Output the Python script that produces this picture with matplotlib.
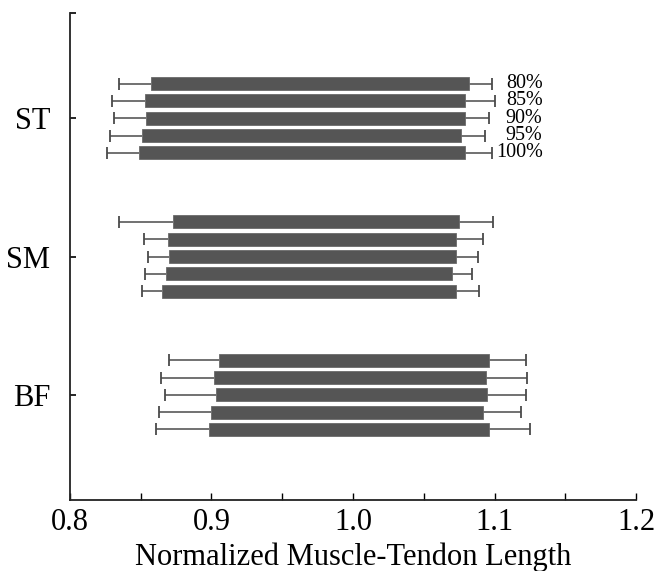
import numpy as np
import matplotlib
matplotlib.use("Agg")
import matplotlib.pyplot as plt
from matplotlib.ticker import MultipleLocator, FormatStrFormatter

plt.rcParams['font.family'] = ['Liberation Serif', 'DejaVu Serif']

muscles = ["ST", "SM", "BF"]
levels = ["80%", "85%", "90%", "95%", "100%"]

# bar start / end and whisker ends, per muscle, ordered 80% .. 100%
st_bar_lo = [0.857, 0.853, 0.854, 0.851, 0.849]
st_bar_hi = [1.082, 1.079, 1.079, 1.076, 1.079]
st_min = [0.835, 0.830, 0.831, 0.828, 0.826]
st_max = [1.098, 1.100, 1.096, 1.093, 1.098]

sm_bar_lo = [0.873, 0.869, 0.870, 0.868, 0.865]
sm_bar_hi = [1.075, 1.073, 1.073, 1.070, 1.073]
sm_min = [0.835, 0.852, 0.855, 0.853, 0.851]
sm_max = [1.099, 1.092, 1.088, 1.084, 1.089]

bf_bar_lo = [0.905, 0.902, 0.903, 0.900, 0.898]
bf_bar_hi = [1.096, 1.094, 1.095, 1.092, 1.096]
bf_min = [0.870, 0.864, 0.867, 0.863, 0.861]
bf_max = [1.122, 1.123, 1.122, 1.119, 1.125]

bar_lo = [st_bar_lo, sm_bar_lo, bf_bar_lo]
bar_hi = [st_bar_hi, sm_bar_hi, bf_bar_hi]
w_min = [st_min, sm_min, bf_min]
w_max = [st_max, sm_max, bf_max]

bar_color = '#555555'
err_color = '#4a4a4a'

fig = plt.figure(figsize=(6.66, 5.71), dpi=100)
ax = fig.add_axes([0.105, 0.1243, 0.850, 0.8527])

group_y = [2, 1, 0]
offsets = [0.25, 0.125, 0.0, -0.125, -0.25]
bar_h = 0.094

for g, gy in enumerate(group_y):
    lo = np.array(bar_lo[g])
    hi = np.array(bar_hi[g])
    mn = np.array(w_min[g])
    mx = np.array(w_max[g])
    ys = gy + np.array(offsets)
    # whiskers only point outward from each end of the bar
    ax.hlines(ys, mn, lo, color=err_color, linewidth=1.1, zorder=1)
    ax.hlines(ys, hi, mx, color=err_color, linewidth=1.1, zorder=1)
    ax.plot(np.concatenate([mn, mx]), np.concatenate([ys, ys]), linestyle='none',
            marker='|', markersize=8, markeredgewidth=1.3, color=err_color, zorder=1)
    ax.barh(ys, hi - lo, left=lo, height=bar_h, color=bar_color,
            edgecolor='#6a6a6a', linewidth=0.6, zorder=2)
    if g == 0:
        for y, lab in zip(ys, levels):
            ax.text(1.134, y, lab, ha='right', va='center', fontsize=14.5)

ax.set_xlim(0.8, 1.2)
ax.set_ylim(-0.76, 2.76)
ax.xaxis.set_major_locator(MultipleLocator(0.1))
ax.xaxis.set_minor_locator(MultipleLocator(0.05))
ax.xaxis.set_major_formatter(FormatStrFormatter('%.1f'))
ax.set_yticks(group_y)
ax.set_yticklabels(muscles)
ax.set_yticks([2.76], minor=True)

ax.tick_params(axis='x', which='both', direction='in', length=5, width=1,
               labelsize=22, pad=6)
ax.tick_params(axis='y', which='both', direction='in', length=4, width=1.2,
               labelsize=22, pad=14)

for side in ['top', 'right']:
    ax.spines[side].set_visible(False)
for side in ['left', 'bottom']:
    ax.spines[side].set_linewidth(1.3)
    ax.spines[side].set_color('#222222')

ax.set_xlabel('Normalized Muscle-Tendon Length', fontsize=22, labelpad=4)

fig.savefig('out.png', dpi=100)
